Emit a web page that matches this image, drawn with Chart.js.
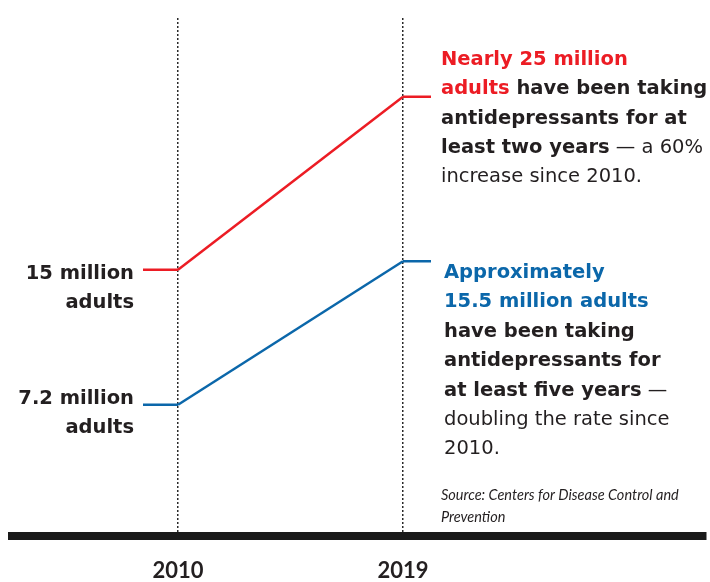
<!DOCTYPE html>
<html>
<head>
<meta charset="utf-8">
<script src="https://cdn.jsdelivr.net/npm/chart.js@4.4.1/dist/chart.umd.min.js"></script>
<style>
  html, body { margin: 0; padding: 0; background: #fff; }
</style>
</head>
<body>
<canvas id="grafico" width="710" height="582"></canvas>
<script>
// dados
const anos = [2010, 2019];
const adultosDoisAnos = [15, 25];     // milhoes, pelo menos dois anos
const adultosCincoAnos = [7.2, 15.5]; // milhoes, pelo menos cinco anos
const anosEixo = [2010, 2019];

const VERMELHO = '#ec1c24';
const AZUL = '#0b67aa';
const ESCURO = '#231f20';
const FONTE = '"DejaVu Sans", sans-serif';
const FONTE_FONTE = 'Lato, sans-serif';

// blocos de texto: [texto, cor, peso]
const notaDoisAnos = [
    [['Nearly 25 million', VERMELHO, 'bold']],
    [['adults', VERMELHO, 'bold'], [' have been taking', ESCURO, 'bold']],
    [['antidepressants for at', ESCURO, 'bold']],
    [['least two years', ESCURO, 'bold'], [' \u2014 a 60%', ESCURO, 'normal']],
    [['increase since 2010.', ESCURO, 'normal']]
];
const notaCincoAnos = [
    [['Approximately', AZUL, 'bold']],
    [['15.5 million adults', AZUL, 'bold']],
    [['have been taking', ESCURO, 'bold']],
    [['antidepressants for', ESCURO, 'bold']],
    [['at least five years', ESCURO, 'bold'], [' \u2014', ESCURO, 'normal']],
    [['doubling the rate since', ESCURO, 'normal']],
    [['2010.', ESCURO, 'normal']]
];
const rotuloDoisAnos = ['15 million', 'adults'];
const rotuloCincoAnos = ['7.2 million', 'adults'];
const fonte = ['Source: Centers for Disease Control and', 'Prevention'];

function escreveBloco(ctx, linhas, x, y, passo, tamanho) {
    linhas.forEach((linha, i) => {
        let px = x;
        for (const [texto, cor, peso] of linha) {
            ctx.font = `${peso} ${tamanho}px ${FONTE}`;
            ctx.fillStyle = cor;
            ctx.fillText(texto, px, y + i * passo);
            px += ctx.measureText(texto).width;
        }
    });
}

// pequenos tracos horizontais antes e depois de cada linha
const tracos = {
    id: 'tracos',
    afterDatasetsDraw(chart) {
        const ctx = chart.ctx;
        chart.data.datasets.forEach((ds, i) => {
            const pts = chart.getDatasetMeta(i).data;
            const primeiro = pts[0];
            const ultimo = pts[pts.length - 1];
            ctx.save();
            ctx.strokeStyle = ds.borderColor;
            ctx.lineWidth = ds.borderWidth;
            ctx.beginPath();
            ctx.moveTo(primeiro.x - 35, primeiro.y);
            ctx.lineTo(primeiro.x, primeiro.y);
            ctx.moveTo(ultimo.x, ultimo.y);
            ctx.lineTo(ultimo.x + 28, ultimo.y);
            ctx.stroke();
            ctx.restore();
        });
    }
};

const textos = {
    id: 'textos',
    afterDraw(chart) {
        const ctx = chart.ctx;
        ctx.save();
        ctx.textBaseline = 'alphabetic';
        ctx.textAlign = 'left';
        escreveBloco(ctx, notaDoisAnos, 441, 65, 29.3, 19.5);
        escreveBloco(ctx, notaCincoAnos, 444, 278, 29.4, 19.5);

        ctx.textAlign = 'right';
        ctx.font = `bold 19.5px ${FONTE}`;
        ctx.fillStyle = ESCURO;
        rotuloDoisAnos.forEach((t, i) => ctx.fillText(t, 134, 279 + i * 28.5));
        rotuloCincoAnos.forEach((t, i) => ctx.fillText(t, 134, 404 + i * 28.5));

        ctx.textAlign = 'left';
        ctx.font = `italic 14.5px ${FONTE_FONTE}`;
        fonte.forEach((t, i) => ctx.fillText(t, 441, 500 + i * 22));
        ctx.restore();
    }
};

const ctx = document.getElementById('grafico').getContext('2d');
new Chart(ctx, {
    type: 'line',
    data: {
        datasets: [{
            label: 'At least two years',
            data: anos.map((a, i) => ({ x: a, y: adultosDoisAnos[i] })),
            borderColor: VERMELHO,
            borderWidth: 2.5,
            pointRadius: 0,
            tension: 0
        }, {
            label: 'At least five years',
            data: anos.map((a, i) => ({ x: a, y: adultosCincoAnos[i] })),
            borderColor: AZUL,
            borderWidth: 2.5,
            pointRadius: 0,
            tension: 0
        }]
    },
    options: {
        responsive: false,
        animation: false,
        events: [],
        layout: { padding: { left: 12, right: 4, top: 18, bottom: 0 } },
        plugins: {
            legend: { display: false },
            tooltip: { enabled: false }
        },
        scales: {
            x: {
                type: 'linear',
                position: 'bottom',
                min: 2003.36,
                max: 2031.12,
                afterBuildTicks: (escala) => {
                    escala.ticks = anosEixo.map(v => ({ value: v }));
                },
                afterFit: (escala) => { escala.height = 46; },
                ticks: {
                    callback: (v) => String(v),
                    autoSkip: false,
                    maxRotation: 0,
                    padding: 22,
                    color: ESCURO,
                    font: { family: 'Lato, sans-serif', size: 22, weight: 'bold' }
                },
                grid: {
                    color: '#2a2a2a',
                    lineWidth: 1.5,
                    drawTicks: false
                },
                border: {
                    display: true,
                    color: '#1a1a1a',
                    width: 8,
                    dash: [2, 2]
                }
            },
            y: {
                display: false,
                min: -0.384,
                max: 29.558
            }
        }
    },
    plugins: [tracos, textos]
});
</script>
</body>
</html>
